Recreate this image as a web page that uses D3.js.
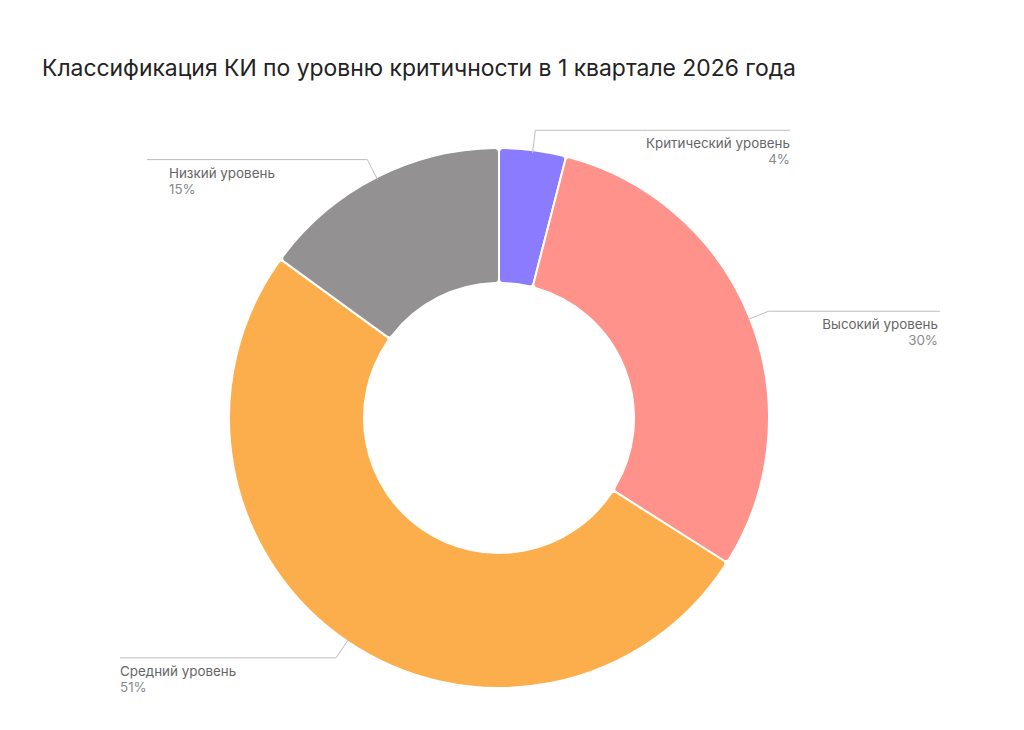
<!DOCTYPE html>
<html>
<head>
<meta charset="utf-8">
<script src="https://cdn.jsdelivr.net/npm/d3@7"></script>
<style>
  body { margin: 0; background: #fff; }
  svg { display: block; font-family: Inter, "Noto Sans", sans-serif; }
</style>
</head>
<body>
<script>
var categories = ["Критический уровень", "Высокий уровень", "Средний уровень", "Низкий уровень"];
var values = [4, 30, 51, 15];
var colors = ["#8b7cff", "#ff928a", "#fdae4c", "#939192"];

// where each label's leader line ends and where its text sits
var lineEndX = [790, 940, 120, 147];
var textX = [790, 938, 120, 169];

var width = 1024, height = 730;
var cx = 499, cy = 418;
var outerR = 270, innerR = 135;

var svg = d3.select("body").append("svg")
    .attr("width", width)
    .attr("height", height);

svg.append("text")
    .attr("x", 42)
    .attr("y", 76)
    .attr("font-size", 22.9)
    .attr("fill", "#222")
    .text("Классификация КИ по уровню критичности в 1 квартале 2026 года");

var data = categories.map(function(c, i) { return {name: c, value: values[i], color: colors[i], idx: i}; });

var pie = d3.pie()
    .sort(null)
    .value(function(d) { return d.value; });

var arc = d3.arc()
    .innerRadius(innerR)
    .outerRadius(outerR)
    .cornerRadius(4);

var g = svg.append("g")
    .attr("transform", "translate(" + cx + "," + cy + ")");

var arcs = pie(data);

g.selectAll("path.slice")
    .data(arcs)
    .enter().append("path")
    .attr("class", "slice")
    .attr("d", arc)
    .attr("fill", function(d) { return d.data.color; })
    .attr("stroke", "#fff")
    .attr("stroke-width", 2);

// leader lines and labels
var lbl = svg.append("g");
arcs.forEach(function(a) {
    var mid = (a.startAngle + a.endAngle) / 2;
    var i = a.data.idx;
    var p0 = [cx + Math.sin(mid) * (outerR - 3), cy - Math.cos(mid) * (outerR - 3)];
    var p1 = [cx + Math.sin(mid) * (outerR + 20), cy - Math.cos(mid) * (outerR + 20)];
    var right = Math.sin(mid) > 0;
    var p2 = [lineEndX[i], p1[1]];

    lbl.append("path")
        .attr("d", d3.line()([p0, p1, p2]))
        .attr("fill", "none")
        .attr("stroke", "#bdbdbd")
        .attr("stroke-width", 1);

    var anchor = right ? "end" : "start";
    lbl.append("text")
        .attr("x", textX[i])
        .attr("y", p1[1] + 18)
        .attr("text-anchor", anchor)
        .attr("font-size", 13.4)
        .attr("fill", "#666")
        .text(a.data.name);
    lbl.append("text")
        .attr("x", textX[i])
        .attr("y", p1[1] + 34)
        .attr("text-anchor", anchor)
        .attr("font-size", 13.4)
        .attr("fill", "#8a8a8a")
        .text(a.data.value + "%");
});
</script>
</body>
</html>
